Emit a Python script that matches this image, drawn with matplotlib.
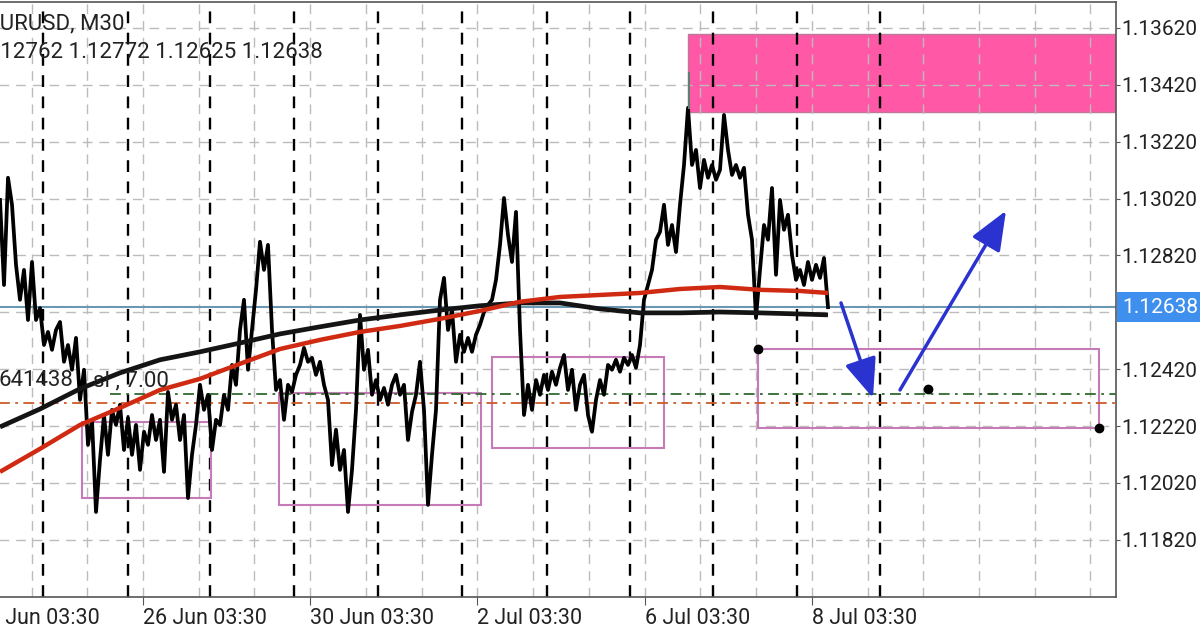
import numpy as np
import matplotlib
matplotlib.use("Agg")
import matplotlib.pyplot as plt
import matplotlib.transforms as mtransforms

plt.rcParams['font.family'] = ['Roboto', 'DejaVu Sans']

# EURUSD M30 price path (one value per bar step)
price = [
    1.13015, 1.12716, 1.13093, 1.12998, 1.12787, 1.12664, 1.12769, 1.12593, 1.12797, 1.12593,
    1.12635, 1.12505, 1.12551, 1.12488, 1.12558, 1.12586, 1.12446, 1.12505, 1.12418, 1.12530,
    1.12312, 1.12418, 1.12154, 1.12242, 1.11918, 1.12101, 1.12259, 1.12119, 1.12277, 1.12224,
    1.12295, 1.12136, 1.12249, 1.12119, 1.12224, 1.12066, 1.12200, 1.12154, 1.12259, 1.12171,
    1.12242, 1.12059, 1.12340, 1.12242, 1.12295, 1.12171, 1.12259, 1.11967, 1.12119, 1.12224,
    1.12365, 1.12277, 1.12330, 1.12136, 1.12242, 1.12224, 1.12330, 1.12277, 1.12435, 1.12365,
    1.12558, 1.12664, 1.12418, 1.12558, 1.12699, 1.12868, 1.12769, 1.12857, 1.12558, 1.12347,
    1.12382, 1.12242, 1.12365, 1.12340, 1.12400, 1.12435, 1.12495, 1.12446, 1.12460, 1.12400,
    1.12446, 1.12365, 1.12312, 1.12083, 1.12207, 1.12066, 1.12136, 1.11918, 1.12066, 1.12277,
    1.12611, 1.12418, 1.12488, 1.12330, 1.12382, 1.12312, 1.12354, 1.12295, 1.12365, 1.12400,
    1.12330, 1.12365, 1.12171, 1.12270, 1.12330, 1.12446, 1.12277, 1.11943, 1.12119, 1.12277,
    1.12664, 1.12741, 1.12558, 1.12628, 1.12446, 1.12541, 1.12481, 1.12530, 1.12481, 1.12541,
    1.12576, 1.12621, 1.12646, 1.12664, 1.12734, 1.12857, 1.13022, 1.12892, 1.12797, 1.12973,
    1.12558, 1.12259, 1.12365, 1.12277, 1.12382, 1.12330, 1.12400, 1.12347, 1.12411, 1.12365,
    1.12425, 1.12470, 1.12347, 1.12418, 1.12277, 1.12365, 1.12400, 1.12259, 1.12200, 1.12312,
    1.12382, 1.12330, 1.12435, 1.12418, 1.12453, 1.12411, 1.12460, 1.12435, 1.12470, 1.12425,
    1.12505, 1.12664, 1.12716, 1.12769, 1.12875, 1.12903, 1.12998, 1.12857, 1.12927, 1.12832,
    1.12998, 1.13138, 1.13339, 1.13138, 1.13191, 1.13057, 1.13156, 1.13093, 1.13138, 1.13086,
    1.13121, 1.13314, 1.13191, 1.13103, 1.13138, 1.13093, 1.13128, 1.12963, 1.12875, 1.12600,
    1.12769, 1.12927, 1.12875, 1.13057, 1.12752, 1.13015, 1.12910, 1.12963, 1.12822, 1.12734,
    1.12769, 1.12716, 1.12797, 1.12734, 1.12787, 1.12741, 1.12811, 1.12638,
]

# moving averages, sampled along the chart
ma_bars = [0, 10, 20, 30, 40, 50, 60, 70, 80, 90, 100, 110, 120, 130, 140, 150, 160, 170, 180, 190, 200, 207]
ma_black = [1.12217, 1.12280, 1.12351, 1.12407, 1.12453, 1.12481, 1.12512, 1.12544, 1.12569, 1.12593, 1.12611,
            1.12628, 1.12643, 1.12653, 1.12653, 1.12632, 1.12618, 1.12618, 1.12621, 1.12618, 1.12614, 1.12611]
ma_red = [1.12059, 1.12140, 1.12224, 1.12284, 1.12347, 1.12386, 1.12439, 1.12491, 1.12523, 1.12551, 1.12572,
          1.12597, 1.12625, 1.12657, 1.12674, 1.12681, 1.12688, 1.12702, 1.12709, 1.12699, 1.12695, 1.12688]

# range boxes: (left bar, right bar, low, high)
boxes = [(20.5, 52.75, 1.11967, 1.12235),
         (69.75, 120.25, 1.11943, 1.12337),
         (123.0, 166.0, 1.12143, 1.12463),
         (189.5, 274.75, 1.12214, 1.12491)]
dot_bars = [189.5, 232.0, 274.75]
dot_prices = [1.12491, 1.12351, 1.12214]

supply_zone = (172.0, 1.13326, 1.13599)
wick_bar, wick_low, wick_high = 172.25, 1.13339, 1.13462

arrows = [((210.25, 1.12653), (218.25, 1.12319)),
          ((225.0, 1.12347), (251.5, 1.12977))]

last_price = 1.12638
sl_green = 1.12333
entry_orange = 1.12301

y_ticks = [1.11820, 1.12020, 1.12220, 1.12420, 1.12620, 1.12820, 1.13020, 1.13220, 1.13420, 1.13620]
x_ticks = [-6.05, 35.75, 77.55, 119.35, 161.15, 202.95]
x_labels = ["24 Jun 03:30", "26 Jun 03:30", "30 Jun 03:30", "2 Jul 03:30", "6 Jul 03:30", "8 Jul 03:30"]
separators = [10.75, 32.0, 52.5, 73.5, 94.5, 115.5, 136.75, 157.5, 178.25, 199.25, 220.0]

fig = plt.figure(figsize=(12, 6.28), dpi=100)
ax = fig.add_axes([-0.025, 0.04936, 0.955, 0.94745])
xmin, xmax = -7.5, 279.0
ax.set_xlim(xmin, xmax)
ax.set_ylim(1.11619, 1.13711)

# grid
for yv in y_ticks:
    ax.axhline(yv, color='#bcbcbc', lw=1, dashes=(7, 5), zorder=1)
step = (x_ticks[1] - x_ticks[0]) / 3
for xv in np.arange(x_ticks[0], xmax, step):
    ax.axvline(xv, color='#bcbcbc', lw=1, dashes=(7, 5), zorder=1)
for xv in separators:
    ax.axvline(xv, color='black', lw=1.7, dashes=(5, 4), zorder=1.2)

# supply zone
ax.add_patch(plt.Rectangle((supply_zone[0], supply_zone[1]), xmax - supply_zone[0],
                           supply_zone[2] - supply_zone[1], facecolor='#ff58a6',
                           edgecolor='#c07898', lw=1, zorder=0.5))

# range boxes
for x0, x1, lo, hi in boxes:
    ax.add_patch(plt.Rectangle((x0, lo), x1 - x0, hi - lo, fill=False,
                               edgecolor='#c77ab8', lw=1.5, zorder=2))

# level lines
ax.plot([27.5, xmax], [sl_green, sl_green], color='#2f6a2f', lw=1.3, ls=(0, (6, 3, 1.5, 3)), zorder=2)
ax.plot([xmin, xmax], [entry_orange, entry_orange], color='#cc5a28', lw=1.3, ls=(0, (6, 3, 1.5, 3)), zorder=2)
ax.axhline(last_price, color='#6a98b2', lw=1.5, zorder=2.2)

# price and MAs
ax.plot(np.arange(len(price)), price, color='black', lw=2.7, zorder=3)
ax.plot([wick_bar, wick_bar], [wick_low, wick_high], color='#5f7f70', lw=1.5, zorder=3)
ax.plot(ma_bars, ma_black, color='#141414', lw=3.4, solid_capstyle='butt', zorder=4)
ax.plot(ma_bars, ma_red, color='#d02a12', lw=3.2, solid_capstyle='butt', zorder=4)

ax.plot(dot_bars, dot_prices, 'o', color='black', ms=6, zorder=5)

for (tx, ty), (hx, hy) in arrows:
    ax.annotate('', xy=(hx, hy), xytext=(tx, ty),
                arrowprops=dict(arrowstyle='-|>,head_length=1.1,head_width=0.45',
                                mutation_scale=22, lw=2.5, color='#2a33cf',
                                shrinkA=0, shrinkB=0), zorder=6)

ax.text(-0.4, 1.12379, '641438', fontsize=16, va='center', ha='left', color='#222', zorder=5)
ax.text(23.3, 1.12379, 'sl , 7.00', fontsize=16, va='center', ha='left', color='#222', zorder=5)

# axes styling
for s in ['top', 'right', 'bottom']:
    ax.spines[s].set_color('#555555')
    ax.spines[s].set_linewidth(1.2)
ax.spines['left'].set_visible(False)

ax.yaxis.tick_right()
ax.set_yticks(y_ticks)
ax.set_yticklabels(['' if abs(v - 1.12620) < 1e-6 else f'{v:.5f}' for v in y_ticks])
ax.tick_params(axis='y', length=3, color='#555555', labelsize=15, pad=1, labelcolor='#222')
ax.set_xticks(x_ticks)
ax.set_xticklabels(x_labels, ha='left')
ax.tick_params(axis='x', length=6, color='#555555', labelsize=15.5, pad=2, labelcolor='#222')

trans = mtransforms.blended_transform_factory(ax.transAxes, ax.transData)
ax.text(1.0 + 6 / 1146, last_price, '1.12638', transform=trans, fontsize=15, color='white',
        va='center', ha='left', clip_on=False, zorder=7,
        bbox=dict(boxstyle='square,pad=0.25', fc='#3f8fee', ec='none'))

fig.text(-13 / 1200, 1 - 24 / 628, 'EURUSD, M30', fontsize=16, va='center', ha='left', color='#222')
fig.text(-18 / 1200, 1 - 52 / 628, '1.12762 1.12772 1.12625 1.12638', fontsize=16,
         va='center', ha='left', color='#222')

fig.savefig('out.png', dpi=100, facecolor='white')
